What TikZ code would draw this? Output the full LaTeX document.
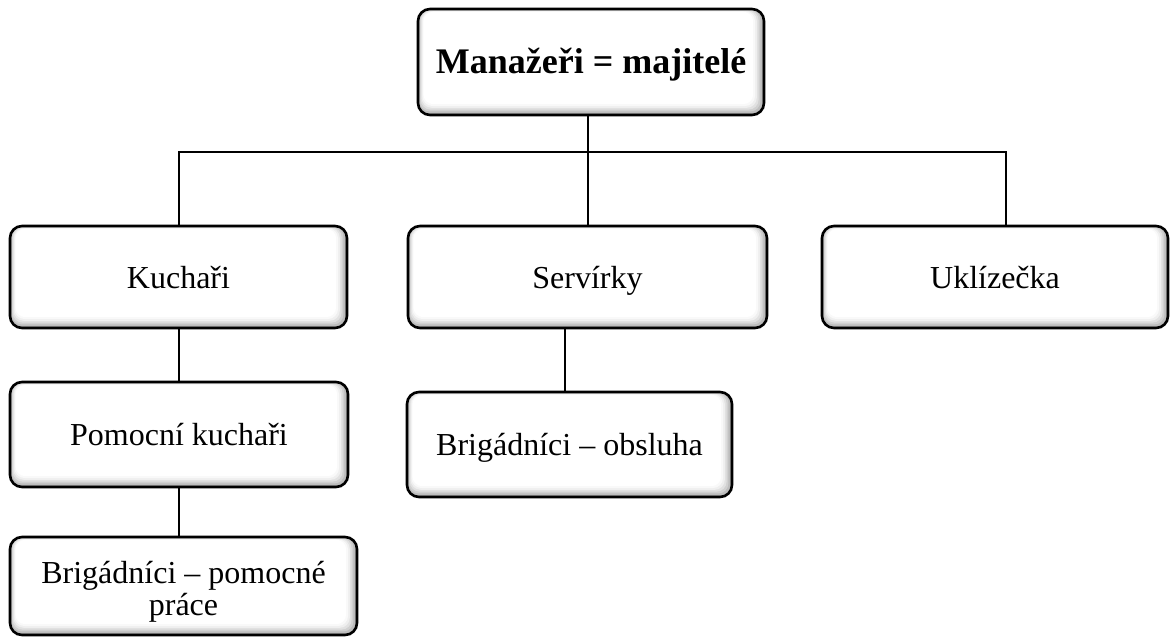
\documentclass[tikz,border=0pt]{standalone}
\usepackage{fontspec}
\setmainfont{Liberation Serif}
\usetikzlibrary{positioning,calc}
\definecolor{bevelgray}{HTML}{707070}
\tikzset{unit/.style={rectangle,draw,line width=1.3pt,rounded corners=6pt,fill=white,align=center,inner sep=2pt,text height=12pt,text depth=1pt,font=\fontsize{16}{17}\selectfont,
  path picture={\foreach \k/\v in {0/62,0.9/46,1.8/33,2.7/21,3.6/11,4.5/4,5.4/0}{\fill[bevelgray!\v!white,rounded corners=5pt] ($(path picture bounding box.south west)+(0.5*\k pt,\k pt)$) rectangle ($(path picture bounding box.north east)+(-\k pt,-0.25*\k pt)$);}}},
  link/.style={line width=1pt}}

\begin{document}
\begin{tikzpicture}[x=0.5pt,y=-0.5pt]
\useasboundingbox (0,0) rectangle (1170,638);
\node[unit,minimum width=173pt,minimum height=53pt,font=\fontsize{18}{21}\selectfont\bfseries] (mgr) at (591,62) {Manažeři = majitelé};
\node[unit,minimum width=168.5pt,minimum height=51pt] (kuch) at (178.5,277) {Kuchaři};
\node[unit,minimum width=179.5pt,minimum height=51pt] (serv) at (587.5,277) {Servírky};
\node[unit,minimum width=173pt,minimum height=51pt] (ukl) at (995,277) {Uklízečka};
\node[unit,minimum width=169pt,minimum height=52.5pt] (pomk) at (179,434.5) {Pomocní kuchaři};
\node[unit,minimum width=162.5pt,minimum height=52.5pt] (brigo) at (569.5,444.5) {Brigádníci – obsluha};
\node[unit,minimum width=173.5pt,minimum height=49pt,text height=29pt,text depth=0pt,font=\fontsize{16}{16}\selectfont] (brigp) at (183.5,586) {Brigádníci – pomocné\\práce};
\coordinate (bus) at (588,152);
% tree lines
\draw[link] (mgr.south -| bus) -- (bus);
\draw[link] (kuch.north) |- (bus) -| ($(ukl.north)+(11,0)$);
\draw[link] (bus) -- (bus |- serv.north);
\draw[link] (kuch.south) -- (kuch.south |- pomk.north);
\draw[link] (pomk.south) -- (pomk.south |- brigp.north);
\draw[link] ($(serv.south)+(-23,0)$) -- ($(serv.south |- brigo.north)+(-23,0)$);
\end{tikzpicture}
\end{document}
